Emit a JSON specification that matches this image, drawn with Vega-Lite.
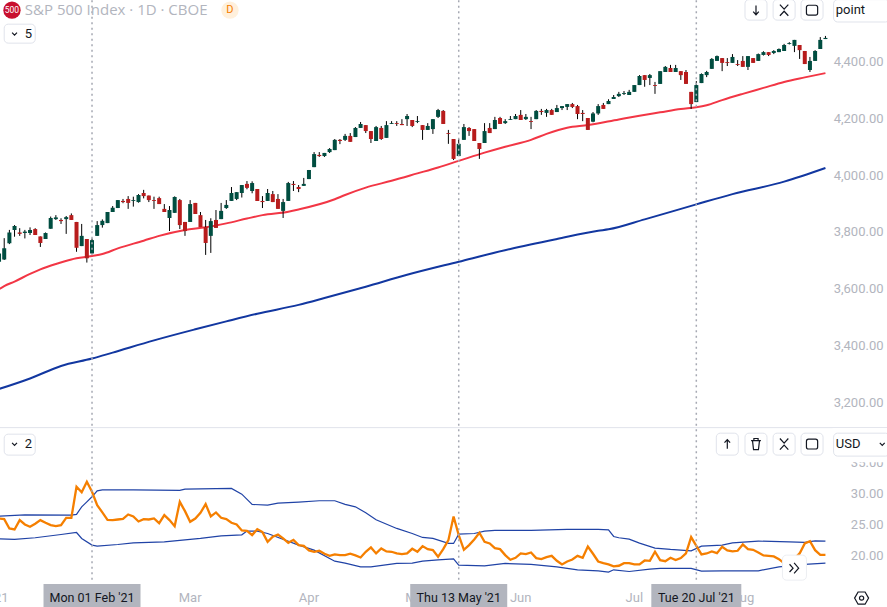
{"$schema":"https://vega.github.io/schema/vega-lite/v6.json","width":887,"height":607,"padding":0,"autosize":{"type":"none"},"background":"white","config":{"view":{"stroke":null},"font":"Roboto"},
"datasets":{"k":[
{"d":"2021-01-04","o":3765,"h":3769,"l":3663,"c":3700,"v":25.9},
{"d":"2021-01-05","o":3695,"h":3724,"l":3689,"c":3724,"v":25.97},
{"d":"2021-01-06","o":3703,"h":3778,"l":3701,"c":3742,"v":25.87},
{"d":"2021-01-07","o":3760,"h":3807,"l":3757,"c":3798,"v":24.37},
{"d":"2021-01-08","o":3807,"h":3824,"l":3783,"c":3821,"v":24.21},
{"d":"2021-01-11","o":3798,"h":3813,"l":3786,"c":3793,"v":25.71},
{"d":"2021-01-12","o":3796,"h":3807,"l":3777,"c":3801,"v":25.01},
{"d":"2021-01-13","o":3796,"h":3816,"l":3789,"c":3807,"v":24.63},
{"d":"2021-01-14","o":3810,"h":3813,"l":3789,"c":3789,"v":25.12},
{"d":"2021-01-15","o":3784,"h":3784,"l":3747,"c":3761,"v":25.71},
{"d":"2021-01-19","o":3775,"h":3798,"l":3775,"c":3796,"v":25.28},
{"d":"2021-01-20","o":3811,"h":3854,"l":3811,"c":3849,"v":24.9},
{"d":"2021-01-21","o":3845,"h":3859,"l":3842,"c":3851,"v":24.74},
{"d":"2021-01-22","o":3842,"h":3848,"l":3828,"c":3838,"v":24.9},
{"d":"2021-01-25","o":3845,"h":3856,"l":3793,"c":3852,"v":26.08},
{"d":"2021-01-26","o":3859,"h":3865,"l":3842,"c":3842,"v":26.08},
{"d":"2021-01-27","o":3835,"h":3835,"l":3730,"c":3744,"v":31.07},
{"d":"2021-01-28","o":3750,"h":3828,"l":3750,"c":3786,"v":30.2},
{"d":"2021-01-29","o":3775,"h":3775,"l":3692,"c":3707,"v":31.87},
{"d":"2021-02-01","o":3724,"h":3777,"l":3722,"c":3771,"v":30.26},
{"d":"2021-02-02","o":3786,"h":3838,"l":3786,"c":3824,"v":28.12},
{"d":"2021-02-03","o":3824,"h":3844,"l":3815,"c":3839,"v":26.94},
{"d":"2021-02-04","o":3831,"h":3870,"l":3831,"c":3870,"v":25.76},
{"d":"2021-02-05","o":3870,"h":3891,"l":3870,"c":3885,"v":25.71},
{"d":"2021-02-08","o":3884,"h":3912,"l":3884,"c":3912,"v":25.81},
{"d":"2021-02-09","o":3909,"h":3916,"l":3901,"c":3905,"v":25.92},
{"d":"2021-02-10","o":3916,"h":3926,"l":3881,"c":3902,"v":26.62},
{"d":"2021-02-11","o":3909,"h":3924,"l":3889,"c":3912,"v":26.3},
{"d":"2021-02-12","o":3905,"h":3933,"l":3903,"c":3930,"v":25.49},
{"d":"2021-02-16","o":3937,"h":3948,"l":3918,"c":3926,"v":25.87},
{"d":"2021-02-17","o":3928,"h":3928,"l":3905,"c":3912,"v":25.81},
{"d":"2021-02-18","o":3912,"h":3924,"l":3881,"c":3909,"v":25.97},
{"d":"2021-02-19","o":3919,"h":3924,"l":3898,"c":3898,"v":25.22},
{"d":"2021-02-22","o":3881,"h":3898,"l":3870,"c":3870,"v":26.51},
{"d":"2021-02-23","o":3849,"h":3891,"l":3803,"c":3877,"v":25.71},
{"d":"2021-02-24","o":3867,"h":3925,"l":3867,"c":3923,"v":24.74},
{"d":"2021-02-25","o":3912,"h":3916,"l":3810,"c":3824,"v":28.65},
{"d":"2021-02-26","o":3835,"h":3835,"l":3786,"c":3803,"v":27.15},
{"d":"2021-03-01","o":3835,"h":3912,"l":3835,"c":3898,"v":25.44},
{"d":"2021-03-02","o":3902,"h":3902,"l":3863,"c":3863,"v":25.97},
{"d":"2021-03-03","o":3859,"h":3870,"l":3817,"c":3817,"v":26.89},
{"d":"2021-03-04","o":3817,"h":3842,"l":3719,"c":3761,"v":28.28},
{"d":"2021-03-05","o":3786,"h":3848,"l":3726,"c":3838,"v":26.3},
{"d":"2021-03-08","o":3842,"h":3877,"l":3814,"c":3814,"v":26.94},
{"d":"2021-03-09","o":3845,"h":3902,"l":3845,"c":3874,"v":26.08},
{"d":"2021-03-10","o":3884,"h":3912,"l":3881,"c":3895,"v":25.87},
{"d":"2021-03-11","o":3909,"h":3958,"l":3909,"c":3937,"v":25.28},
{"d":"2021-03-12","o":3916,"h":3940,"l":3912,"c":3940,"v":25.01},
{"d":"2021-03-15","o":3937,"h":3965,"l":3921,"c":3965,"v":24.05},
{"d":"2021-03-16","o":3969,"h":3979,"l":3950,"c":3955,"v":23.99},
{"d":"2021-03-17","o":3944,"h":3978,"l":3936,"c":3972,"v":23.3},
{"d":"2021-03-18","o":3951,"h":3951,"l":3909,"c":3909,"v":24.26},
{"d":"2021-03-19","o":3909,"h":3926,"l":3884,"c":3905,"v":23.78},
{"d":"2021-03-22","o":3909,"h":3951,"l":3909,"c":3937,"v":22.22},
{"d":"2021-03-23","o":3933,"h":3944,"l":3905,"c":3905,"v":23.03},
{"d":"2021-03-24","o":3916,"h":3933,"l":3881,"c":3881,"v":23.4},
{"d":"2021-03-25","o":3874,"h":3916,"l":3849,"c":3905,"v":22.76},
{"d":"2021-03-26","o":3909,"h":3976,"l":3909,"c":3972,"v":22.06},
{"d":"2021-03-29","o":3969,"h":3979,"l":3944,"c":3965,"v":22.54},
{"d":"2021-03-30","o":3958,"h":3965,"l":3940,"c":3951,"v":21.69},
{"d":"2021-03-31","o":3962,"h":3990,"l":3962,"c":3969,"v":21.58},
{"d":"2021-04-01","o":3986,"h":4018,"l":3986,"c":4018,"v":20.83},
{"d":"2021-04-05","o":4028,"h":4081,"l":4028,"c":4074,"v":20.62},
{"d":"2021-04-06","o":4071,"h":4081,"l":4064,"c":4067,"v":20.78},
{"d":"2021-04-07","o":4067,"h":4078,"l":4064,"c":4078,"v":20.3},
{"d":"2021-04-08","o":4081,"h":4095,"l":4078,"c":4092,"v":19.97},
{"d":"2021-04-09","o":4088,"h":4127,"l":4088,"c":4124,"v":20.19},
{"d":"2021-04-12","o":4124,"h":4127,"l":4109,"c":4120,"v":20.08},
{"d":"2021-04-13","o":4124,"h":4145,"l":4120,"c":4138,"v":20.08},
{"d":"2021-04-14","o":4138,"h":4148,"l":4117,"c":4117,"v":20.3},
{"d":"2021-04-15","o":4134,"h":4169,"l":4134,"c":4166,"v":20.03},
{"d":"2021-04-16","o":4166,"h":4187,"l":4166,"c":4180,"v":19.7},
{"d":"2021-04-19","o":4176,"h":4176,"l":4148,"c":4155,"v":20.62},
{"d":"2021-04-20","o":4155,"h":4155,"l":4113,"c":4127,"v":21.31},
{"d":"2021-04-21","o":4120,"h":4173,"l":4120,"c":4169,"v":20.35},
{"d":"2021-04-22","o":4166,"h":4173,"l":4124,"c":4127,"v":21.15},
{"d":"2021-04-23","o":4131,"h":4190,"l":4131,"c":4176,"v":20.67},
{"d":"2021-04-26","o":4180,"h":4190,"l":4180,"c":4183,"v":20.62},
{"d":"2021-04-27","o":4183,"h":4190,"l":4173,"c":4180,"v":20.35},
{"d":"2021-04-28","o":4180,"h":4197,"l":4176,"c":4176,"v":20.24},
{"d":"2021-04-29","o":4197,"h":4215,"l":4173,"c":4208,"v":20.35},
{"d":"2021-04-30","o":4194,"h":4194,"l":4169,"c":4173,"v":21.1},
{"d":"2021-05-03","o":4187,"h":4208,"l":4183,"c":4190,"v":20.62},
{"d":"2021-05-04","o":4176,"h":4176,"l":4124,"c":4159,"v":21.53},
{"d":"2021-05-05","o":4159,"h":4183,"l":4159,"c":4173,"v":21.04},
{"d":"2021-05-06","o":4162,"h":4197,"l":4145,"c":4197,"v":20.88},
{"d":"2021-05-07","o":4205,"h":4233,"l":4201,"c":4229,"v":19.81},
{"d":"2021-05-10","o":4226,"h":4229,"l":4180,"c":4180,"v":21.04},
{"d":"2021-05-11","o":4148,"h":4159,"l":4110,"c":4145,"v":22.49},
{"d":"2021-05-12","o":4127,"h":4127,"l":4053,"c":4057,"v":26.3},
{"d":"2021-05-13","o":4067,"h":4127,"l":4067,"c":4110,"v":23.3},
{"d":"2021-05-14","o":4124,"h":4180,"l":4124,"c":4169,"v":20.94},
{"d":"2021-05-17","o":4166,"h":4169,"l":4138,"c":4155,"v":21.69},
{"d":"2021-05-18","o":4162,"h":4162,"l":4120,"c":4120,"v":22.6},
{"d":"2021-05-19","o":4113,"h":4113,"l":4057,"c":4092,"v":23.67},
{"d":"2021-05-20","o":4113,"h":4183,"l":4113,"c":4155,"v":22.22},
{"d":"2021-05-21","o":4166,"h":4183,"l":4148,"c":4148,"v":21.96},
{"d":"2021-05-24","o":4162,"h":4205,"l":4162,"c":4194,"v":21.2},
{"d":"2021-05-25","o":4201,"h":4205,"l":4180,"c":4180,"v":21.04},
{"d":"2021-05-26","o":4183,"h":4197,"l":4180,"c":4190,"v":20.08},
{"d":"2021-05-27","o":4194,"h":4208,"l":4194,"c":4197,"v":19.33},
{"d":"2021-05-28","o":4197,"h":4215,"l":4197,"c":4208,"v":19.65},
{"d":"2021-06-01","o":4212,"h":4229,"l":4194,"c":4194,"v":20.35},
{"d":"2021-06-02","o":4197,"h":4215,"l":4194,"c":4205,"v":20.24},
{"d":"2021-06-03","o":4190,"h":4205,"l":4162,"c":4187,"v":20.51},
{"d":"2021-06-04","o":4197,"h":4229,"l":4197,"c":4226,"v":19.6},
{"d":"2021-06-07","o":4226,"h":4233,"l":4212,"c":4222,"v":19.44},
{"d":"2021-06-08","o":4219,"h":4233,"l":4205,"c":4229,"v":19.76},
{"d":"2021-06-09","o":4229,"h":4233,"l":4212,"c":4212,"v":19.97},
{"d":"2021-06-10","o":4222,"h":4247,"l":4222,"c":4236,"v":19.17},
{"d":"2021-06-11","o":4236,"h":4243,"l":4229,"c":4243,"v":18.58},
{"d":"2021-06-14","o":4240,"h":4250,"l":4229,"c":4250,"v":19.06},
{"d":"2021-06-15","o":4250,"h":4254,"l":4236,"c":4240,"v":19.38},
{"d":"2021-06-16","o":4243,"h":4247,"l":4197,"c":4215,"v":19.97},
{"d":"2021-06-17","o":4219,"h":4229,"l":4190,"c":4215,"v":19.65},
{"d":"2021-06-18","o":4201,"h":4201,"l":4159,"c":4159,"v":21.47},
{"d":"2021-06-21","o":4188,"h":4222,"l":4186,"c":4217,"v":20.3},
{"d":"2021-06-22","o":4217,"h":4250,"l":4212,"c":4243,"v":19.06},
{"d":"2021-06-23","o":4247,"h":4254,"l":4233,"c":4233,"v":18.79},
{"d":"2021-06-24","o":4250,"h":4267,"l":4250,"c":4261,"v":18.58},
{"d":"2021-06-25","o":4268,"h":4282,"l":4268,"c":4275,"v":18.26},
{"d":"2021-06-28","o":4278,"h":4293,"l":4275,"c":4286,"v":18.37},
{"d":"2021-06-29","o":4286,"h":4296,"l":4282,"c":4289,"v":18.79},
{"d":"2021-06-30","o":4282,"h":4300,"l":4282,"c":4293,"v":18.79},
{"d":"2021-07-01","o":4293,"h":4317,"l":4293,"c":4317,"v":18.58},
{"d":"2021-07-02","o":4317,"h":4352,"l":4317,"c":4349,"v":18.58},
{"d":"2021-07-06","o":4352,"h":4352,"l":4311,"c":4335,"v":19.22},
{"d":"2021-07-07","o":4342,"h":4356,"l":4317,"c":4352,"v":19.17},
{"d":"2021-07-08","o":4317,"h":4328,"l":4286,"c":4314,"v":20.62},
{"d":"2021-07-09","o":4321,"h":4366,"l":4321,"c":4366,"v":19.28},
{"d":"2021-07-12","o":4363,"h":4384,"l":4363,"c":4381,"v":19.11},
{"d":"2021-07-13","o":4377,"h":4388,"l":4363,"c":4363,"v":19.65},
{"d":"2021-07-14","o":4363,"h":4388,"l":4363,"c":4377,"v":19.28},
{"d":"2021-07-15","o":4366,"h":4366,"l":4335,"c":4352,"v":19.6},
{"d":"2021-07-16","o":4363,"h":4370,"l":4321,"c":4321,"v":20.35},
{"d":"2021-07-19","o":4293,"h":4293,"l":4233,"c":4250,"v":22.97},
{"d":"2021-07-20","o":4257,"h":4331,"l":4257,"c":4317,"v":21.58},
{"d":"2021-07-21","o":4324,"h":4358,"l":4324,"c":4356,"v":20.19},
{"d":"2021-07-22","o":4352,"h":4367,"l":4345,"c":4363,"v":20.35},
{"d":"2021-07-23","o":4374,"h":4412,"l":4374,"c":4409,"v":20.67},
{"d":"2021-07-26","o":4402,"h":4421,"l":4402,"c":4419,"v":20.4},
{"d":"2021-07-27","o":4412,"h":4412,"l":4366,"c":4395,"v":21.42},
{"d":"2021-07-28","o":4398,"h":4412,"l":4384,"c":4395,"v":20.83},
{"d":"2021-07-29","o":4395,"h":4426,"l":4395,"c":4416,"v":20.67},
{"d":"2021-07-30","o":4391,"h":4405,"l":4384,"c":4388,"v":20.78},
{"d":"2021-08-02","o":4402,"h":4419,"l":4381,"c":4381,"v":21.79},
{"d":"2021-08-03","o":4381,"h":4419,"l":4370,"c":4419,"v":21.04},
{"d":"2021-08-04","o":4412,"h":4412,"l":4395,"c":4395,"v":20.94},
{"d":"2021-08-05","o":4402,"h":4428,"l":4402,"c":4426,"v":20.51},
{"d":"2021-08-06","o":4423,"h":4436,"l":4421,"c":4433,"v":20.03},
{"d":"2021-08-09","o":4433,"h":4433,"l":4419,"c":4423,"v":19.97},
{"d":"2021-08-10","o":4430,"h":4440,"l":4426,"c":4437,"v":19.87},
{"d":"2021-08-11","o":4433,"h":4446,"l":4433,"c":4444,"v":19.44},
{"d":"2021-08-12","o":4437,"h":4462,"l":4437,"c":4458,"v":18.79},
{"d":"2021-08-13","o":4462,"h":4468,"l":4460,"c":4465,"v":18.47},
{"d":"2021-08-16","o":4455,"h":4476,"l":4433,"c":4476,"v":19.54},
{"d":"2021-08-17","o":4458,"h":4458,"l":4409,"c":4440,"v":20.35},
{"d":"2021-08-18","o":4437,"h":4437,"l":4391,"c":4391,"v":21.96},
{"d":"2021-08-19","o":4370,"h":4416,"l":4363,"c":4402,"v":22.33},
{"d":"2021-08-20","o":4402,"h":4440,"l":4402,"c":4437,"v":20.88},
{"d":"2021-08-23","o":4444,"h":4486,"l":4444,"c":4476,"v":20.13},
{"d":"2021-08-24","o":4479,"h":4490,"l":4479,"c":4483,"v":20.13}
],
"ma50":[{"d":"2021-01-05","m":3598},{"d":"2021-01-06","m":3609},{"d":"2021-01-08","m":3625},{"d":"2021-01-13","m":3652},{"d":"2021-01-15","m":3668},{"d":"2021-01-21","m":3687},{"d":"2021-01-26","m":3703},{"d":"2021-02-01","m":3715},{"d":"2021-02-03","m":3722},{"d":"2021-02-08","m":3742},{"d":"2021-02-16","m":3769},{"d":"2021-02-19","m":3786},{"d":"2021-02-26","m":3807},{"d":"2021-03-04","m":3816},{"d":"2021-03-10","m":3830},{"d":"2021-03-16","m":3847},{"d":"2021-03-19","m":3859},{"d":"2021-03-26","m":3871},{"d":"2021-03-30","m":3879},{"d":"2021-04-09","m":3915},{"d":"2021-04-13","m":3930},{"d":"2021-04-19","m":3956},{"d":"2021-04-26","m":3980},{"d":"2021-05-03","m":4006},{"d":"2021-05-07","m":4027},{"d":"2021-05-13","m":4050},{"d":"2021-05-20","m":4079},{"d":"2021-05-26","m":4100},{"d":"2021-06-03","m":4124},{"d":"2021-06-08","m":4145},{"d":"2021-06-14","m":4167},{"d":"2021-06-18","m":4176},{"d":"2021-06-28","m":4196},{"d":"2021-07-02","m":4209},{"d":"2021-07-09","m":4221},{"d":"2021-07-15","m":4233},{"d":"2021-07-20","m":4239},{"d":"2021-07-22","m":4246},{"d":"2021-07-27","m":4264},{"d":"2021-08-02","m":4286},{"d":"2021-08-06","m":4307},{"d":"2021-08-12","m":4328},{"d":"2021-08-18","m":4344},{"d":"2021-08-24","m":4359}],
"ma200":[{"d":"2021-01-05","m":3247},{"d":"2021-01-13","m":3284},{"d":"2021-01-22","m":3328},{"d":"2021-02-01","m":3354},{"d":"2021-02-05","m":3375},{"d":"2021-02-18","m":3418},{"d":"2021-03-02","m":3457},{"d":"2021-03-10","m":3485},{"d":"2021-03-18","m":3512},{"d":"2021-03-30","m":3543},{"d":"2021-04-07","m":3567},{"d":"2021-04-19","m":3607},{"d":"2021-04-29","m":3649},{"d":"2021-05-13","m":3695},{"d":"2021-05-27","m":3740},{"d":"2021-06-10","m":3775},{"d":"2021-06-22","m":3804},{"d":"2021-06-24","m":3809},{"d":"2021-07-06","m":3844},{"d":"2021-07-20","m":3897},{"d":"2021-07-29","m":3933},{"d":"2021-08-12","m":3977},{"d":"2021-08-24","m":4025}],
"bbu":[{"d":"2021-01-05","b":26.35},{"d":"2021-01-12","b":26.56},{"d":"2021-01-26","b":26.51},{"d":"2021-01-27","b":26.62},{"d":"2021-01-28","b":27.85},{"d":"2021-01-29","b":28.65},{"d":"2021-02-01","b":29.46},{"d":"2021-02-02","b":30.42},{"d":"2021-02-03","b":30.58},{"d":"2021-02-11","b":30.58},{"d":"2021-02-25","b":30.48},{"d":"2021-02-26","b":30.69},{"d":"2021-03-11","b":30.8},{"d":"2021-03-15","b":29.89},{"d":"2021-03-17","b":28.23},{"d":"2021-03-22","b":28.12},{"d":"2021-03-24","b":28.44},{"d":"2021-03-30","b":28.6},{"d":"2021-04-06","b":28.82},{"d":"2021-04-09","b":28.82},{"d":"2021-04-13","b":28.23},{"d":"2021-04-15","b":27.85},{"d":"2021-04-19","b":26.89},{"d":"2021-04-21","b":25.76},{"d":"2021-04-27","b":24.37},{"d":"2021-04-30","b":23.56},{"d":"2021-05-04","b":22.92},{"d":"2021-05-06","b":22.76},{"d":"2021-05-11","b":21.96},{"d":"2021-05-12","b":21.96},{"d":"2021-05-13","b":23.46},{"d":"2021-05-18","b":23.56},{"d":"2021-05-20","b":23.94},{"d":"2021-05-24","b":24.05},{"d":"2021-06-03","b":24.05},{"d":"2021-06-14","b":24.21},{"d":"2021-06-22","b":24.21},{"d":"2021-06-24","b":24.15},{"d":"2021-06-25","b":23.08},{"d":"2021-06-28","b":22.87},{"d":"2021-06-30","b":22.65},{"d":"2021-07-02","b":22.01},{"d":"2021-07-08","b":21.21},{"d":"2021-07-13","b":20.99},{"d":"2021-07-19","b":20.78},{"d":"2021-07-21","b":21.53},{"d":"2021-07-27","b":21.69},{"d":"2021-07-29","b":22.06},{"d":"2021-08-05","b":22.33},{"d":"2021-08-13","b":22.22},{"d":"2021-08-18","b":22.12},{"d":"2021-08-20","b":22.38},{"d":"2021-08-24","b":22.33}],
"bbl":[{"d":"2021-01-05","b":22.71},{"d":"2021-01-08","b":22.6},{"d":"2021-01-14","b":22.87},{"d":"2021-01-22","b":23.4},{"d":"2021-01-27","b":23.72},{"d":"2021-01-28","b":22.76},{"d":"2021-02-01","b":21.69},{"d":"2021-02-02","b":21.53},{"d":"2021-02-08","b":21.79},{"d":"2021-02-11","b":22.06},{"d":"2021-02-22","b":22.22},{"d":"2021-02-24","b":22.38},{"d":"2021-03-03","b":22.76},{"d":"2021-03-09","b":23.19},{"d":"2021-03-15","b":23.35},{"d":"2021-03-16","b":23.94},{"d":"2021-03-18","b":23.94},{"d":"2021-03-22","b":23.56},{"d":"2021-03-30","b":21.69},{"d":"2021-04-05","b":20.88},{"d":"2021-04-09","b":19.11},{"d":"2021-04-13","b":18.79},{"d":"2021-04-16","b":18.2},{"d":"2021-04-20","b":18.2},{"d":"2021-04-27","b":18.74},{"d":"2021-04-30","b":18.79},{"d":"2021-05-04","b":19.11},{"d":"2021-05-07","b":19.33},{"d":"2021-05-12","b":19.49},{"d":"2021-05-13","b":18.47},{"d":"2021-05-20","b":18.36},{"d":"2021-05-26","b":18.74},{"d":"2021-06-03","b":18.58},{"d":"2021-06-10","b":18.2},{"d":"2021-06-16","b":17.72},{"d":"2021-06-22","b":17.56},{"d":"2021-06-24","b":17.35},{"d":"2021-06-25","b":17.72},{"d":"2021-06-30","b":17.45},{"d":"2021-07-07","b":17.83},{"d":"2021-07-09","b":17.94},{"d":"2021-07-19","b":17.94},{"d":"2021-07-21","b":17.51},{"d":"2021-07-27","b":17.56},{"d":"2021-08-05","b":17.56},{"d":"2021-08-11","b":18.2},{"d":"2021-08-18","b":18.58},{"d":"2021-08-24","b":18.79}]
},
"encoding":{"x":{"field":"d","type":"ordinal","title":null,"scale":{"type":"band","paddingInner":0,"paddingOuter":0,"range":[-8.7,890],"domain":["2021-01-04","2021-01-05","2021-01-06","2021-01-07","2021-01-08","2021-01-11","2021-01-12","2021-01-13","2021-01-14","2021-01-15","2021-01-19","2021-01-20","2021-01-21","2021-01-22","2021-01-25","2021-01-26","2021-01-27","2021-01-28","2021-01-29","2021-02-01","2021-02-02","2021-02-03","2021-02-04","2021-02-05","2021-02-08","2021-02-09","2021-02-10","2021-02-11","2021-02-12","2021-02-16","2021-02-17","2021-02-18","2021-02-19","2021-02-22","2021-02-23","2021-02-24","2021-02-25","2021-02-26","2021-03-01","2021-03-02","2021-03-03","2021-03-04","2021-03-05","2021-03-08","2021-03-09","2021-03-10","2021-03-11","2021-03-12","2021-03-15","2021-03-16","2021-03-17","2021-03-18","2021-03-19","2021-03-22","2021-03-23","2021-03-24","2021-03-25","2021-03-26","2021-03-29","2021-03-30","2021-03-31","2021-04-01","2021-04-05","2021-04-06","2021-04-07","2021-04-08","2021-04-09","2021-04-12","2021-04-13","2021-04-14","2021-04-15","2021-04-16","2021-04-19","2021-04-20","2021-04-21","2021-04-22","2021-04-23","2021-04-26","2021-04-27","2021-04-28","2021-04-29","2021-04-30","2021-05-03","2021-05-04","2021-05-05","2021-05-06","2021-05-07","2021-05-10","2021-05-11","2021-05-12","2021-05-13","2021-05-14","2021-05-17","2021-05-18","2021-05-19","2021-05-20","2021-05-21","2021-05-24","2021-05-25","2021-05-26","2021-05-27","2021-05-28","2021-06-01","2021-06-02","2021-06-03","2021-06-04","2021-06-07","2021-06-08","2021-06-09","2021-06-10","2021-06-11","2021-06-14","2021-06-15","2021-06-16","2021-06-17","2021-06-18","2021-06-21","2021-06-22","2021-06-23","2021-06-24","2021-06-25","2021-06-28","2021-06-29","2021-06-30","2021-07-01","2021-07-02","2021-07-06","2021-07-07","2021-07-08","2021-07-09","2021-07-12","2021-07-13","2021-07-14","2021-07-15","2021-07-16","2021-07-19","2021-07-20","2021-07-21","2021-07-22","2021-07-23","2021-07-26","2021-07-27","2021-07-28","2021-07-29","2021-07-30","2021-08-02","2021-08-03","2021-08-04","2021-08-05","2021-08-06","2021-08-09","2021-08-10","2021-08-11","2021-08-12","2021-08-13","2021-08-16","2021-08-17","2021-08-18","2021-08-19","2021-08-20","2021-08-23","2021-08-24","2021-08-25","2021-08-26","2021-08-27","2021-08-30","2021-08-31","2021-09-01","2021-09-02","2021-09-03","2021-09-06","2021-09-07","2021-09-08","2021-09-09"]},
"axis":{"orient":"bottom","values":["2021-01-04","2021-03-01","2021-04-01","2021-05-03","2021-06-01","2021-07-01","2021-08-02"],"labelExpr":"datum.value=='2021-01-04'?'2021':datum.value=='2021-03-01'?'Mar':datum.value=='2021-04-01'?'Apr':datum.value=='2021-05-03'?'May':datum.value=='2021-06-01'?'Jun':datum.value=='2021-07-01'?'Jul':'Aug'","labelAngle":0,"labelAlign":"center","labelBaseline":"middle","labelPadding":-10,"labelColor":"#b2b5be","labelFontSize":13,"labelFont":"Roboto","labelOverlap":false,"domain":false,"ticks":false,"grid":false,"title":null}}},
"layer":[
{"resolve":{"axis":{"y":"independent"}},"layer":[
{"data":{"name":"ma50"},"mark":{"type":"line","color":"#f23645","strokeWidth":2,"interpolate":"monotone"},"encoding":{"y":{"field":"m","type":"quantitative","title":null,"scale":{"domain":[3109.5,4616.5],"range":[428,0],"nice":false,"zero":false},"axis":{"orient":"right","values":[3200,3400,3600,3800,4000,4200,4400],"format":",.2f","domain":false,"ticks":false,"grid":false,"title":null,"labelColor":"#b2b5be","labelFontSize":13,"labelFont":"Roboto","labelAlign":"right","labelPadding":-4,"labelOverlap":false}}}},
{"data":{"name":"ma200"},"mark":{"type":"line","color":"#1237a0","strokeWidth":2,"interpolate":"monotone"},"encoding":{"y":{"field":"m","type":"quantitative","axis":null}}},
{"data":{"name":"k"},"mark":{"type":"rule","color":"#000000","strokeWidth":1},"encoding":{"y":{"field":"l","type":"quantitative","axis":null},"y2":{"field":"h"}}},
{"data":{"name":"k"},"mark":{"type":"bar","width":4},"encoding":{"y":{"field":"o","type":"quantitative","axis":null},"y2":{"field":"c"},"color":{"condition":{"test":"datum.c>=datum.o","value":"#004d40"},"value":"#b71c1c"}}}
]},
{"resolve":{"axis":{"y":"independent"}},"layer":[
{"data":{"name":"bbu"},"mark":{"type":"line","color":"#2043a6","strokeWidth":1.2},"encoding":{"y":{"field":"b","type":"quantitative","title":null,"scale":{"domain":[15.92,40.52],"range":[581,428],"nice":false,"zero":false},"axis":{"orient":"right","values":[20,25,30,35],"format":".2f","domain":false,"ticks":false,"grid":false,"title":null,"labelColor":"#b2b5be","labelFontSize":13,"labelFont":"Roboto","labelAlign":"right","labelPadding":-4,"labelOverlap":false}}}},
{"data":{"name":"bbl"},"mark":{"type":"line","color":"#2043a6","strokeWidth":1.2},"encoding":{"y":{"field":"b","type":"quantitative","axis":null}}},
{"data":{"name":"k"},"mark":{"type":"line","color":"#f57f00","strokeWidth":2.3},"encoding":{"y":{"field":"v","type":"quantitative","axis":null}}},
{"data":{"values":[{"v":40.58}]},"mark":{"type":"rule","color":"#e0e3eb","strokeWidth":1},"encoding":{"x":null,"y":{"field":"v","type":"quantitative","axis":null}}},
{"data":{"values":[{"d":"2021-02-01","a":109.3,"b":16.06},{"d":"2021-05-13","a":109.3,"b":16.06},{"d":"2021-07-20","a":109.3,"b":16.06}]},"mark":{"type":"rule","color":"#a6a9b3","strokeWidth":1.5,"strokeDash":[2,3.5]},"encoding":{"y":{"field":"a","type":"quantitative","axis":null},"y2":{"field":"b"}}},
{"data":{"values":[{"d":"2021-09-02","a":40.5,"b":35}]},"mark":{"type":"bar","width":58,"color":"#ffffff"},"encoding":{"y":{"field":"a","type":"quantitative","axis":null},"y2":{"field":"b"}}},
{"data":{"values":[{"d":"2021-02-01","a":15.42,"b":11},{"d":"2021-05-13","a":15.42,"b":11}]},"mark":{"type":"bar","width":97,"color":"#b2b5be"},"encoding":{"y":{"field":"a","type":"quantitative","axis":null},"y2":{"field":"b"}}},
{"data":{"values":[{"d":"2021-07-20","a":15.42,"b":11}]},"mark":{"type":"bar","width":90,"color":"#b2b5be"},"encoding":{"y":{"field":"a","type":"quantitative","axis":null},"y2":{"field":"b"}}},
{"data":{"values":[{"d":"2021-02-01","y":13.17,"t":"Mon 01 Feb '21"},{"d":"2021-05-13","y":13.17,"t":"Thu 13 May '21"},{"d":"2021-07-20","y":13.17,"t":"Tue 20 Jul '21"}]},"mark":{"type":"text","color":"#131722","fontSize":12.5,"font":"Roboto","align":"center","baseline":"middle"},"encoding":{"y":{"field":"y","type":"quantitative","axis":null},"text":{"field":"t"}}},
{"data":{"values":[{"d":"2021-08-05","a":109.4,"b":106.1},{"d":"2021-08-05","a":39.69,"b":36.16}]},"mark":{"type":"bar","width":22,"color":"#ffffff","stroke":"#e0e3eb","cornerRadius":4,"xOffset":-2.3},"encoding":{"y":{"field":"a","type":"quantitative","axis":null},"y2":{"field":"b"}}},
{"data":{"values":[{"d":"2021-08-19","a":109.4,"b":106.1},{"d":"2021-08-19","a":39.69,"b":36.16}]},"mark":{"type":"bar","width":22,"color":"#ffffff","stroke":"#e0e3eb","cornerRadius":4,"xOffset":2.1},"encoding":{"y":{"field":"a","type":"quantitative","axis":null},"y2":{"field":"b"}}},
{"data":{"values":[{"d":"2021-08-12","a":109.4,"b":106.1},{"d":"2021-07-28","a":39.69,"b":36.16},{"d":"2021-08-12","a":39.69,"b":36.16}]},"mark":{"type":"bar","width":22,"color":"#ffffff","stroke":"#e0e3eb","cornerRadius":4},"encoding":{"y":{"field":"a","type":"quantitative","axis":null},"y2":{"field":"b"}}},
{"data":{"values":[{"d":"2021-09-02","a":109.4,"b":105.8},{"d":"2021-09-02","a":39.69,"b":36}]},"mark":{"type":"bar","width":56,"color":"#ffffff","stroke":"#e0e3eb","cornerRadius":4},"encoding":{"y":{"field":"a","type":"quantitative","axis":null},"y2":{"field":"b"}}},
{"data":{"values":[{"d":"2021-01-11","a":105.45,"b":102.4},{"d":"2021-01-11","a":39.53,"b":36.16}]},"mark":{"type":"bar","width":31,"color":"#ffffff","stroke":"#e0e3eb","cornerRadius":4},"encoding":{"y":{"field":"a","type":"quantitative","axis":null},"y2":{"field":"b"}}},
{"data":{"values":[{"d":"2021-08-16","a":20.08,"b":16.06}]},"mark":{"type":"bar","width":24,"color":"#ffffff","stroke":"#eceef2","cornerRadius":4},"encoding":{"y":{"field":"a","type":"quantitative","axis":null},"y2":{"field":"b"}}},
{"data":{"values":[{"d":"2021-08-05","y":107.7,"i":"down"},{"d":"2021-08-05","y":37.93,"i":"trash"}]},"mark":{"type":"point","filled":false,"size":196,"color":"#131722","strokeWidth":1.2,"opacity":1,"xOffset":-2.3},"encoding":{"y":{"field":"y","type":"quantitative","axis":null},"shape":{"field":"i","type":"nominal","legend":null}}},
{"data":{"values":[{"d":"2021-08-19","y":107.7,"i":"max"},{"d":"2021-08-19","y":37.93,"i":"max"}]},"mark":{"type":"point","filled":false,"size":196,"color":"#131722","strokeWidth":1.2,"opacity":1,"xOffset":2.1},"encoding":{"y":{"field":"y","type":"quantitative","axis":null},"shape":{"field":"i","type":"nominal","legend":null}}},
{"data":{"values":[{"d":"2021-08-12","y":107.7,"i":"collapse"},{"d":"2021-07-28","y":37.93,"i":"up"},{"d":"2021-08-12","y":37.93,"i":"collapse"},{"d":"2021-09-08","y":37.93,"i":"caret"},{"d":"2021-01-08","y":103.9,"i":"caret"},{"d":"2021-01-08","y":37.93,"i":"caret"},{"d":"2021-08-16","y":17.99,"i":"dbl"},{"d":"2021-09-02","y":13.17,"i":"hex"}]},"mark":{"type":"point","filled":false,"size":196,"color":"#131722","strokeWidth":1.2,"opacity":1},"encoding":{"y":{"field":"y","type":"quantitative","axis":null},"shape":{"field":"i","type":"nominal","legend":null,"scale":{"domain":["down","up","collapse","max","trash","caret","dbl","hex"],"range":["M0,-0.65V0.65M-0.4,0.2L0,0.65L0.4,0.2","M0,0.65V-0.65M-0.4,-0.2L0,-0.65L0.4,-0.2","M-0.6,-0.8L0,-0.15L0.6,-0.8M-0.6,0.8L0,0.15L0.6,0.8","M-0.5,-0.7H0.5Q0.8,-0.7 0.8,-0.4V0.4Q0.8,0.7 0.5,0.7H-0.5Q-0.8,0.7 -0.8,0.4V-0.4Q-0.8,-0.7 -0.5,-0.7Z","M-0.7,-0.5H0.7M-0.3,-0.5V-0.8H0.3V-0.5M-0.5,-0.5L-0.35,0.8H0.35L0.5,-0.5","M-0.35,-0.18L0,0.18L0.35,-0.18","M-0.7,-0.55L-0.2,0L-0.7,0.55M-0.05,-0.75L0.6,0L-0.05,0.75","M-0.5,-0.87L0.5,-0.87L1,0L0.5,0.87L-0.5,0.87L-1,0ZM0.3,0A0.3,0.3 0 1,0 -0.3,0A0.3,0.3 0 1,0 0.3,0Z"]}}}},
{"data":{"values":[{"d":"2021-01-12","y":103.9,"t":"5"},{"d":"2021-01-12","y":37.93,"t":"2"},{"d":"2021-08-26","y":107.7,"t":"point"},{"d":"2021-08-26","y":37.93,"t":"USD"}]},"mark":{"type":"text","color":"#131722","fontSize":13,"font":"Roboto","align":"left","baseline":"middle"},"encoding":{"y":{"field":"y","type":"quantitative","axis":null},"text":{"field":"t"}}},
{"data":{"values":[{"d":"2021-01-12","y":107.7,"t":"S&P 500 Index · 1D · CBOE"}]},"mark":{"type":"text","color":"#b2b5be","fontSize":15,"font":"Open Sans","align":"left","baseline":"middle"},"encoding":{"y":{"field":"y","type":"quantitative","axis":null},"text":{"field":"t"}}},
{"data":{"values":[{"d":"2021-01-07","y":107.7}]},"mark":{"type":"point","filled":true,"size":300,"color":"#c8102e","opacity":1,"shape":"circle","xOffset":2.6},"encoding":{"y":{"field":"y","type":"quantitative","axis":null}}},
{"data":{"values":[{"d":"2021-01-07","y":107.7,"t":"500"}]},"mark":{"type":"text","color":"#ffffff","fontSize":8.5,"font":"Roboto","align":"center","baseline":"middle","xOffset":2.6},"encoding":{"y":{"field":"y","type":"quantitative","axis":null},"text":{"field":"t"}}},
{"data":{"values":[{"d":"2021-03-11","y":107.7}]},"mark":{"type":"point","filled":true,"size":300,"color":"#fff0dc","opacity":1,"shape":"circle","xOffset":-1.5},"encoding":{"y":{"field":"y","type":"quantitative","axis":null}}},
{"data":{"values":[{"d":"2021-03-11","y":107.7,"t":"D"}]},"mark":{"type":"text","color":"#f57c00","fontSize":11,"font":"Roboto","align":"center","baseline":"middle","xOffset":-1.5},"encoding":{"y":{"field":"y","type":"quantitative","axis":null},"text":{"field":"t"}}}
]}
],
"resolve":{"scale":{"y":"independent"}}}
